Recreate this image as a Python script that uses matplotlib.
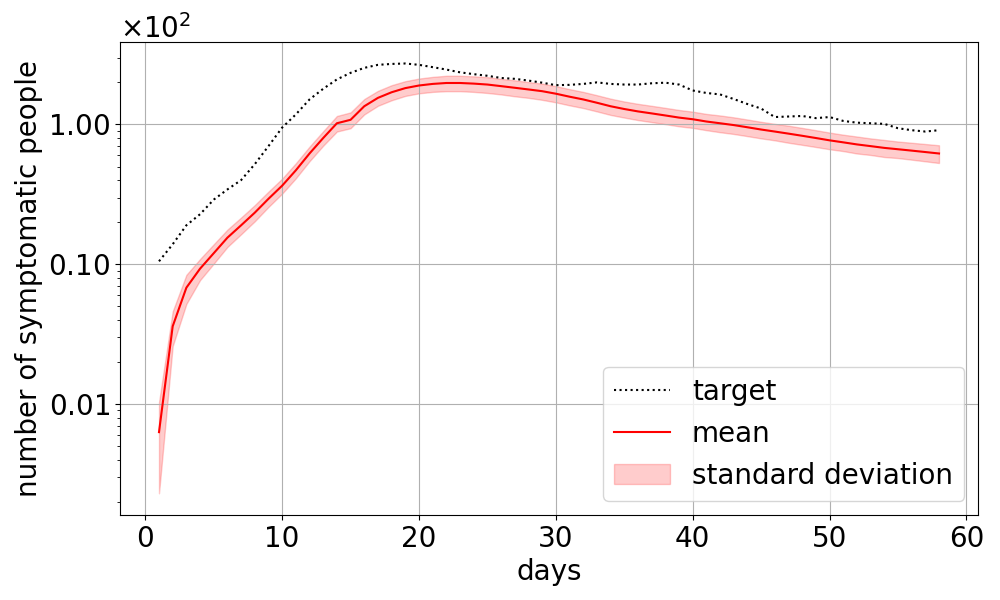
import matplotlib.pyplot as plt
import numpy as np
from matplotlib.ticker import ScalarFormatter

plt.rcParams['font.size'] = 20

# days of the simulation
days = np.arange(1, 59)

# values, in hundreds of people
target_h = [0.105, 0.139, 0.19, 0.228, 0.29, 0.343, 0.40, 0.52, 0.70, 0.95,
            1.18, 1.51, 1.80, 2.10, 2.34, 2.54, 2.67, 2.71, 2.73, 2.67,
            2.57, 2.47, 2.36, 2.29, 2.23, 2.15, 2.12, 2.06, 1.99, 1.91,
            1.92, 1.95, 2.00, 1.95, 1.93, 1.93, 1.97, 1.99, 1.93, 1.75,
            1.68, 1.64, 1.52, 1.40, 1.30, 1.13, 1.14, 1.15, 1.11, 1.13,
            1.06, 1.03, 1.02, 1.01, 0.94, 0.91, 0.89, 0.91]
mean_h = [0.0063, 0.036, 0.068, 0.093, 0.12, 0.155, 0.19, 0.234, 0.294, 0.365,
          0.47, 0.62, 0.80, 1.02, 1.08, 1.35, 1.55, 1.70, 1.82, 1.90,
          1.95, 1.98, 1.98, 1.96, 1.93, 1.88, 1.83, 1.78, 1.73, 1.66,
          1.58, 1.51, 1.43, 1.35, 1.29, 1.24, 1.20, 1.16, 1.12, 1.09,
          1.05, 1.02, 0.99, 0.955, 0.92, 0.89, 0.86, 0.83, 0.80, 0.77,
          0.745, 0.72, 0.70, 0.68, 0.665, 0.65, 0.635, 0.62]
std_h = [0.004, 0.010, 0.016, 0.016, 0.019, 0.022, 0.026, 0.031, 0.037, 0.045,
         0.058, 0.074, 0.095, 0.13, 0.14, 0.17, 0.19, 0.21, 0.22, 0.23,
         0.24, 0.25, 0.25, 0.25, 0.25, 0.24, 0.24, 0.23, 0.23, 0.22,
         0.21, 0.20, 0.19, 0.18, 0.17, 0.165, 0.16, 0.155, 0.15, 0.145,
         0.14, 0.14, 0.135, 0.13, 0.125, 0.12, 0.12, 0.115, 0.11, 0.105,
         0.10, 0.10, 0.095, 0.095, 0.09, 0.09, 0.09, 0.09]

target = np.array(target_h) * 100
mean = np.array(mean_h) * 100
std = np.array(std_h) * 100

fig, ax = plt.subplots(figsize=(10, 6), dpi=100)
fig.subplots_adjust(left=0.12, right=0.978, top=0.93, bottom=0.142)

ax.plot(days, target, 'k:', label='target')
ax.plot(days, mean, 'r-', label='mean')
ax.fill_between(days, mean - std, mean + std, color='red', alpha=0.2,
                label='standard deviation')

ax.set_yscale('log')
fmt = ScalarFormatter(useMathText=True)
fmt.set_powerlimits((0, 0))
ax.yaxis.set_major_formatter(fmt)

ax.set_xlabel('days')
ax.set_ylabel('number of symptomatic people')
ax.grid(True)
ax.legend(loc='lower right')

plt.savefig('out.png')
